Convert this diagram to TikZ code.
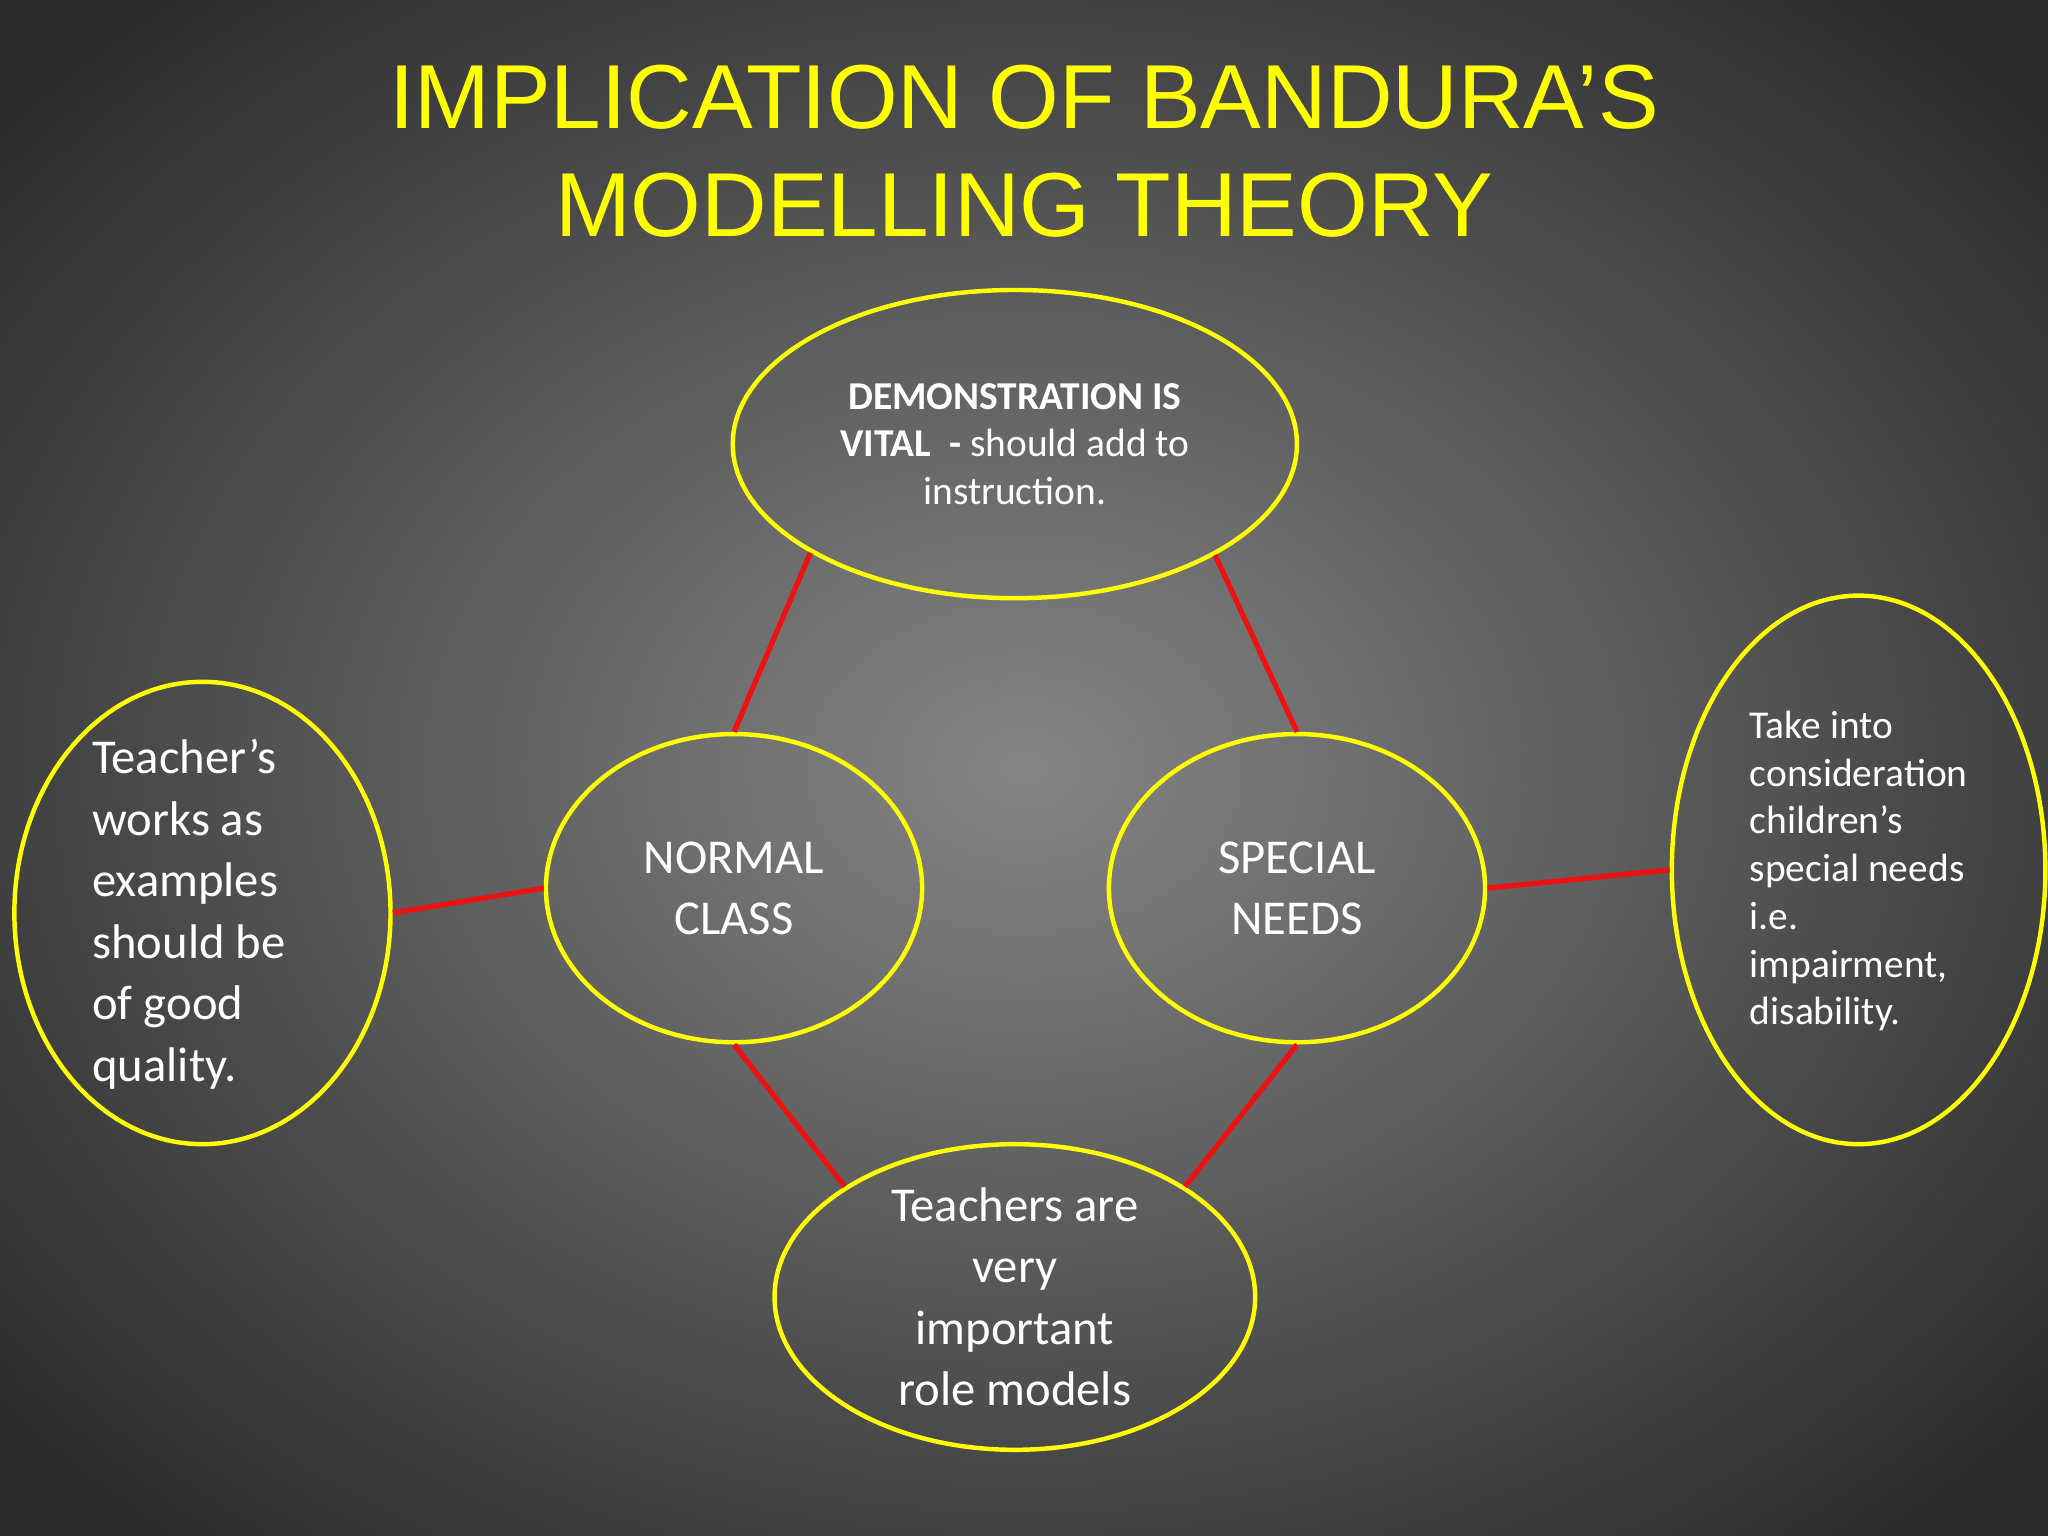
\documentclass[tikz,border=0pt]{standalone}
\usepackage{fontspec}
\setmainfont{Carlito}
\newfontfamily\titlefont{Liberation Sans}
\usetikzlibrary{shapes.geometric}
\definecolor{yel}{HTML}{FFFF00}
\definecolor{redl}{HTML}{EE1111}
\definecolor{bgin}{HTML}{858585}
\definecolor{bgout}{HTML}{2A2A2A}
\tikzset{
  ell/.style={ellipse, draw=yel, line width=0.34mm, inner sep=0pt},
  link/.style={draw=redl, line width=0.4mm},
  txt/.style={text=white, inner sep=0pt}
}
\begin{document}
\begin{tikzpicture}[x=0.1mm,y=-0.1mm]
\useasboundingbox (0,0) rectangle (1568,1176);
\shade[inner color=bgin, outer color=bgout] (-250,-200) rectangle (1818,1376);
\node[text=yel, align=center, font=\titlefont\fontsize{19.8}{23.5}\selectfont] (title) at (784,116) {IMPLICATION OF BANDURA’S\\MODELLING THEORY};
\node[ell, minimum width=43.2mm, minimum height=23.6mm] (top) at (777,340) {};
\node[ell, minimum width=28.8mm, minimum height=23.6mm] (normal) at (562,680) {};
\node[ell, minimum width=28.8mm, minimum height=23.6mm] (special) at (993,680) {};
\node[ell, minimum width=36.8mm, minimum height=23.4mm] (bottom) at (777,993) {};
\node[ell, minimum width=28.8mm, minimum height=35.4mm] (left) at (155,699) {};
\node[ell, minimum width=28.6mm, minimum height=42mm] (right) at (1423,666) {};
\node[txt, align=center, font=\fontsize{8.6}{10.4}\selectfont] (ttop) at (777,340) {\textbf{DEMONSTRATION IS}\\\textbf{VITAL\ \ -} should add to\\instruction.};
\node[txt, align=center, font=\fontsize{10.6}{13.4}\selectfont] (tn) at (562,680) {NORMAL\\CLASS};
\node[txt, align=center, font=\fontsize{10.6}{13.4}\selectfont] (ts) at (993,680) {SPECIAL\\NEEDS};
\node[txt, align=center, font=\fontsize{10.6}{13.4}\selectfont] (tb) at (777,993) {Teachers are\\very\\important\\role models};
\node[txt, align=left, anchor=west, font=\fontsize{10.6}{13.4}\selectfont] (tl) at (70,700) {Teacher’s\\works as\\examples\\should be\\of good\\quality.};
\node[txt, align=left, anchor=west, font=\fontsize{8.6}{10.4}\selectfont] (tr) at (1339,667) {Take into\\consideration\\children’s\\special needs\\i.e.\\impairment,\\disability.};
\draw[link] (top.208.8) -- (normal.90);
\draw[link] (top.331.2) -- (special.90);
\draw[link] (normal.270) -- (bottom.147);
\draw[link] (special.270) -- (bottom.33);
\draw[link] (left.0) -- (normal.180);
\draw[link] (special.0) -- (right.180);
\end{tikzpicture}
\end{document}
